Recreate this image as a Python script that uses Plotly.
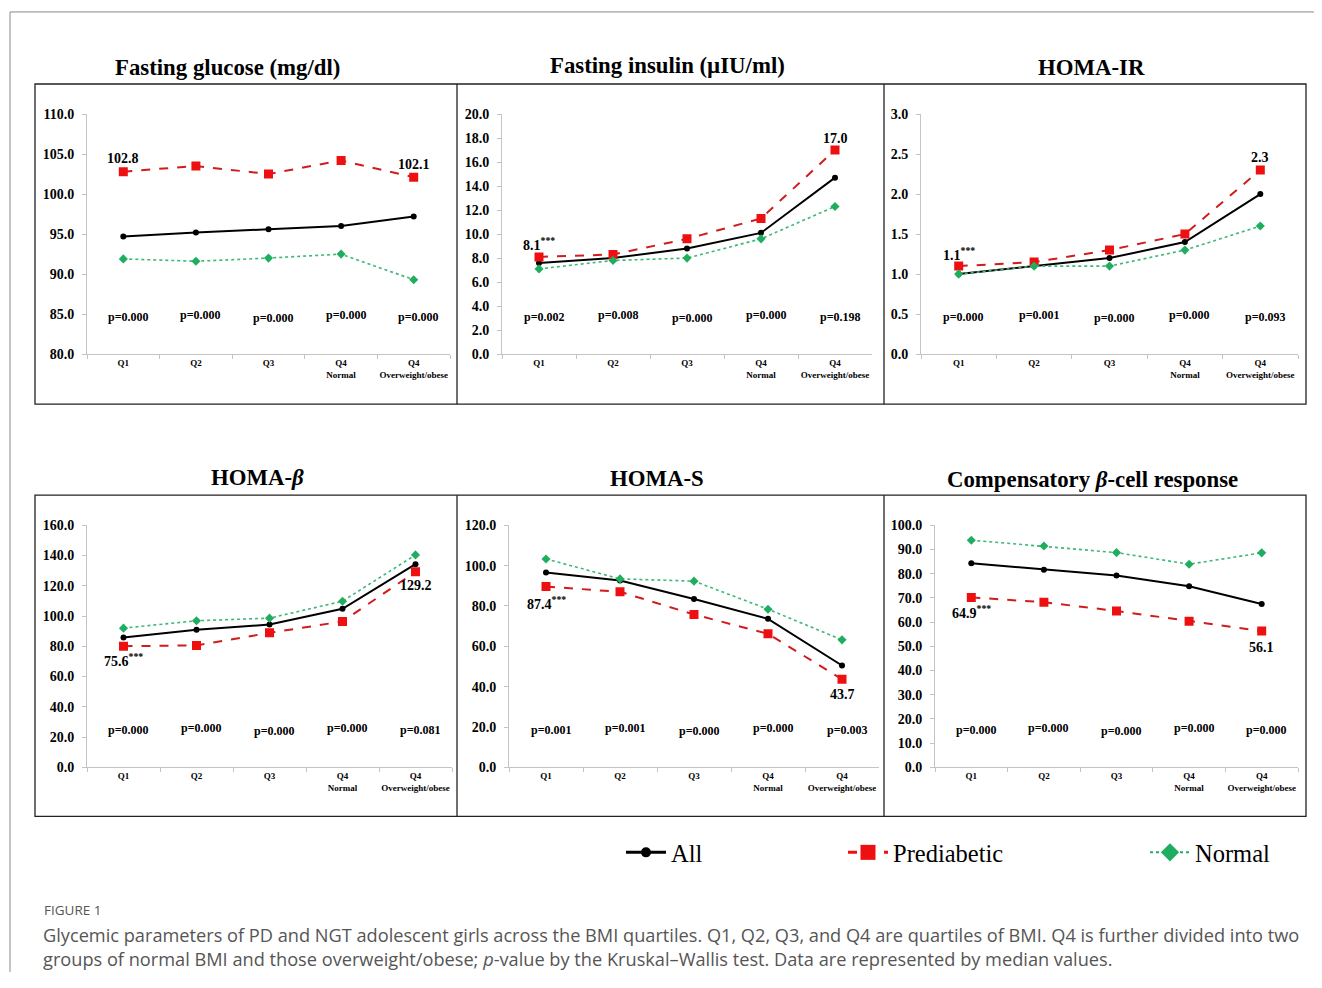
import plotly.graph_objects as go

# ---------------- data ----------------
categories = ["Q1", "Q2", "Q3", "Q4<br>Normal", "Q4<br>Overweight/obese"]
series_names = ["All", "Prediabetic", "Normal"]

glucose_all = [94.7, 95.2, 95.6, 96.0, 97.2]
glucose_pre = [102.8, 103.5, 102.5, 104.2, 102.1]
glucose_nor = [91.9, 91.6, 92.0, 92.5, 89.3]
glucose_p = ["p=0.000", "p=0.000", "p=0.000", "p=0.000", "p=0.000"]
glucose_lbl = ["102.8", "102.1"]

insulin_all = [7.6, 8.0, 8.8, 10.1, 14.7]
insulin_pre = [8.1, 8.3, 9.6, 11.3, 17.0]
insulin_nor = [7.1, 7.8, 8.0, 9.6, 12.3]
insulin_p = ["p=0.002", "p=0.008", "p=0.000", "p=0.000", "p=0.198"]
insulin_lbl = ["8.1<sup>***</sup>", "17.0"]

homair_all = [1.0, 1.1, 1.2, 1.4, 2.0]
homair_pre = [1.1, 1.15, 1.3, 1.5, 2.3]
homair_nor = [1.0, 1.1, 1.1, 1.3, 1.6]
homair_p = ["p=0.000", "p=0.001", "p=0.000", "p=0.000", "p=0.093"]
homair_lbl = ["1.1<sup>***</sup>", "2.3"]

homab_all = [85.8, 90.9, 94.4, 104.8, 134.3]
homab_pre = [80.1, 80.6, 88.9, 96.4, 129.2]
homab_nor = [92.0, 96.9, 98.6, 109.8, 140.4]
homab_p = ["p=0.000", "p=0.000", "p=0.000", "p=0.000", "p=0.081"]
homab_lbl = ["75.6<sup>***</sup>", "129.2"]

homas_all = [96.6, 92.6, 83.4, 73.6, 50.5]
homas_pre = [89.6, 87.0, 75.8, 66.2, 43.7]
homas_nor = [103.3, 93.4, 92.3, 78.4, 63.2]
homas_p = ["p=0.001", "p=0.001", "p=0.000", "p=0.000", "p=0.003"]
homas_lbl = ["87.4<sup>***</sup>", "43.7"]

comp_all = [84.3, 81.6, 79.2, 74.8, 67.5]
comp_pre = [70.2, 68.2, 64.6, 60.4, 56.3]
comp_nor = [93.8, 91.4, 88.7, 83.9, 88.6]
comp_p = ["p=0.000", "p=0.000", "p=0.000", "p=0.000", "p=0.000"]
comp_lbl = ["64.9<sup>***</sup>", "56.1"]

titles = ["Fasting glucose (mg/dl)", "Fasting insulin (\u00b5IU/ml)", "HOMA-IR",
          "HOMA-<i>\u03b2</i>", "HOMA-S", "Compensatory <i>\u03b2</i>-cell response"]
y_ranges = [(80, 110, 5), (0, 20, 2), (0, 3, 0.5), (0, 160, 20), (0, 120, 20), (0, 100, 10)]

# ---------------- layout helpers ----------------
FW, FH = 1306, 972
OFFX = 8
SY, OFFY = 0.984, 15.3      # vertical mapping of the captured page
def px(x):
    return (x - OFFX) / FW
def py(y):
    return 1 - (y / SY - OFFY) / FH

panels = [
    dict(all=glucose_all, pre=glucose_pre, nor=glucose_nor, p=glucose_p, lbl=glucose_lbl,
         x=(87, 450), y=(114, 354), title_xy=(227, 68), lbl_shift=(-13, -13)),
    dict(all=insulin_all, pre=insulin_pre, nor=insulin_nor, p=insulin_p, lbl=insulin_lbl,
         x=(502, 872), y=(114, 354), title_xy=(667, 66), lbl_shift=(-13, -12)),
    dict(all=homair_all, pre=homair_pre, nor=homair_nor, p=homair_p, lbl=homair_lbl,
         x=(921, 1298), y=(114, 354), title_xy=(1091, 68), lbl_shift=(-12, -13)),
    dict(all=homab_all, pre=homab_pre, nor=homab_nor, p=homab_p, lbl=homab_lbl,
         x=(87, 452), y=(525, 767), title_xy=(257, 477), lbl_shift=(14, 14)),
    dict(all=homas_all, pre=homas_pre, nor=homas_nor, p=homas_p, lbl=homas_lbl,
         x=(509, 879), y=(525, 767), title_xy=(657, 478), lbl_shift=(16, 15)),
    dict(all=comp_all, pre=comp_pre, nor=comp_nor, p=comp_p, lbl=comp_lbl,
         x=(935, 1298), y=(525, 767), title_xy=(1092, 479), lbl_shift=(15, 16)),
]

SERIF = "Liberation Serif, Times New Roman, serif"
AX_COLOR = "#c4c4c4"
BLACK = "#000000"
RED_LINE = "#d01c1c"
RED_MK = "#ee1010"
GREEN_LINE = "#3cb878"
GREEN_MK = "#1fae60"

fig = go.Figure()
annotations = []
p_y = [0.155, 0.162, 0.150, 0.162, 0.153]

for i, pnl in enumerate(panels):
    n = "" if i == 0 else str(i + 1)
    xa, ya = "x" + n, "y" + n
    styles = [
        (series_names[0], pnl["all"], dict(color=BLACK, width=2, dash="solid"),
         dict(symbol="circle", size=6, color=BLACK)),
        (series_names[1], pnl["pre"], dict(color=RED_LINE, width=2, dash="dash"),
         dict(symbol="square", size=9, color=RED_MK)),
        (series_names[2], pnl["nor"], dict(color=GREEN_LINE, width=1.6, dash="dot"),
         dict(symbol="diamond", size=7, color=GREEN_MK)),
    ]
    for name, vals, line, marker in styles:
        fig.add_trace(go.Scatter(
            x=categories, y=vals, name=name, mode="lines+markers",
            line=line, marker=marker, xaxis=xa, yaxis=ya, showlegend=False))

    lo, hi, dt = y_ranges[i]
    fig.layout["xaxis" + n] = dict(
        domain=[px(pnl["x"][0]), px(pnl["x"][1])], anchor=ya,
        type="category", categoryorder="array", categoryarray=categories,
        range=[-0.5, 4.5], showline=True, linecolor=AX_COLOR, linewidth=1,
        ticks="outside", tickson="boundaries", ticklen=4, tickcolor=AX_COLOR,
        showgrid=False, zeroline=False, tickangle=0,
        tickfont=dict(family=SERIF, size=9, color=BLACK, weight="bold"))
    fig.layout["yaxis" + n] = dict(
        domain=[py(pnl["y"][1]), py(pnl["y"][0])], anchor=xa,
        range=[lo, hi], dtick=dt, tick0=lo, tickformat=".1f",
        showline=True, linecolor=AX_COLOR, linewidth=1,
        ticks="outside", ticklen=4, tickcolor=AX_COLOR, ticklabelstandoff=5,
        showgrid=False, zeroline=False,
        tickfont=dict(family=SERIF, size=14, color=BLACK, weight="bold"))

    # p-values
    for k, ptxt in enumerate(pnl["p"]):
        annotations.append(dict(
            x=categories[k], y=p_y[k], xref=xa, yref=ya + " domain", xshift=5,
            xanchor="center", yanchor="middle",
            text="<b>" + ptxt + "</b>", showarrow=False,
            font=dict(family=SERIF, size=12, color=BLACK)))

    # value labels on prediabetic series
    for k, idx in enumerate([0, 4]):
        sh = pnl["lbl_shift"][k]
        annotations.append(dict(
            x=categories[idx], y=pnl["pre"][idx], xref=xa, yref=ya,
            xanchor="center", yanchor="middle",
            yshift=-sh, text="<b>" + pnl["lbl"][k] + "</b>", showarrow=False,
            font=dict(family=SERIF, size=14, color=BLACK)))

    # panel titles
    tx, ty = pnl["title_xy"]
    annotations.append(dict(
        x=px(tx), y=py(ty), xref="paper", yref="paper", showarrow=False,
        xanchor="center", yanchor="middle",
        text="<b>" + titles[i] + "</b>",
        font=dict(family=SERIF, size=22.8, color=BLACK)))

# legend-only entries (no data points), styled like the reference key
legend_styles = [
    (series_names[0], dict(color=BLACK, width=3, dash="solid"),
     dict(symbol="circle", size=10, color=BLACK), "legend"),
    (series_names[1], dict(color=RED_MK, width=3, dash="dash"),
     dict(symbol="square", size=15, color=RED_MK), "legend2"),
    (series_names[2], dict(color=GREEN_MK, width=2, dash="dot"),
     dict(symbol="diamond", size=14, color=GREEN_MK), "legend3"),
]
for name, line, marker, lg in legend_styles:
    fig.add_trace(go.Scatter(
        x=[None], y=[None], name=name, mode="lines+markers", line=line, marker=marker,
        showlegend=True, legend=lg, xaxis="x", yaxis="y"))

# caption
annotations.append(dict(
    x=px(42), y=py(910), xref="paper", yref="paper", xanchor="left", yanchor="middle",
    showarrow=False, text="FIGURE 1",
    font=dict(family="Open Sans, sans-serif", size=13.5, color="#555555")))
annotations.append(dict(
    x=px(41), y=py(921), xref="paper", yref="paper", xanchor="left", yanchor="top",
    align="left", showarrow=False,
    text=("Glycemic parameters of PD and NGT adolescent girls across the BMI quartiles. "
          "Q1, Q2, Q3, and Q4 are quartiles of BMI. Q4 is further divided into two<br>"
          "groups of normal BMI and those overweight/obese; <i>p</i>-value by the "
          "Kruskal\u2013Wallis test. Data are represented by median values."),
    font=dict(family="Open Sans, sans-serif", size=18.2, color="#555555")))

shapes = []
# outer frame (top and left edges)
shapes.append(dict(type="line", xref="paper", yref="paper", x0=px(10), x1=1.0,
                   y0=py(12), y1=py(12), line=dict(color="#8a8a8a", width=1)))
shapes.append(dict(type="line", xref="paper", yref="paper", x0=px(10), x1=px(10),
                   y0=py(12), y1=0, line=dict(color="#8a8a8a", width=1)))
# panel boxes
for (y0, y1) in [(84, 404), (495, 816)]:
    shapes.append(dict(type="rect", xref="paper", yref="paper", x0=px(35), x1=px(1306),
                       y0=py(y1), y1=py(y0), line=dict(color="#222222", width=1.3)))
    for xd in [457, 884]:
        shapes.append(dict(type="line", xref="paper", yref="paper", x0=px(xd), x1=px(xd),
                           y0=py(y1), y1=py(y0), line=dict(color="#222222", width=1.3)))

leg_font = dict(family=SERIF, size=24.5, color=BLACK)
legend_common = dict(orientation="h", xanchor="left", yanchor="middle",
                     bgcolor="rgba(0,0,0,0)", font=leg_font, itemwidth=40)

fig.update_layout(
    width=FW, height=FH, margin=dict(l=0, r=0, t=0, b=0),
    paper_bgcolor="white", plot_bgcolor="white",
    annotations=annotations, shapes=shapes,
    legend=dict(x=px(621), y=py(852), **legend_common),
    legend2=dict(x=px(843), y=py(852), **legend_common),
    legend3=dict(x=px(1145), y=py(852), **legend_common),
)

fig.write_html("out.html")
